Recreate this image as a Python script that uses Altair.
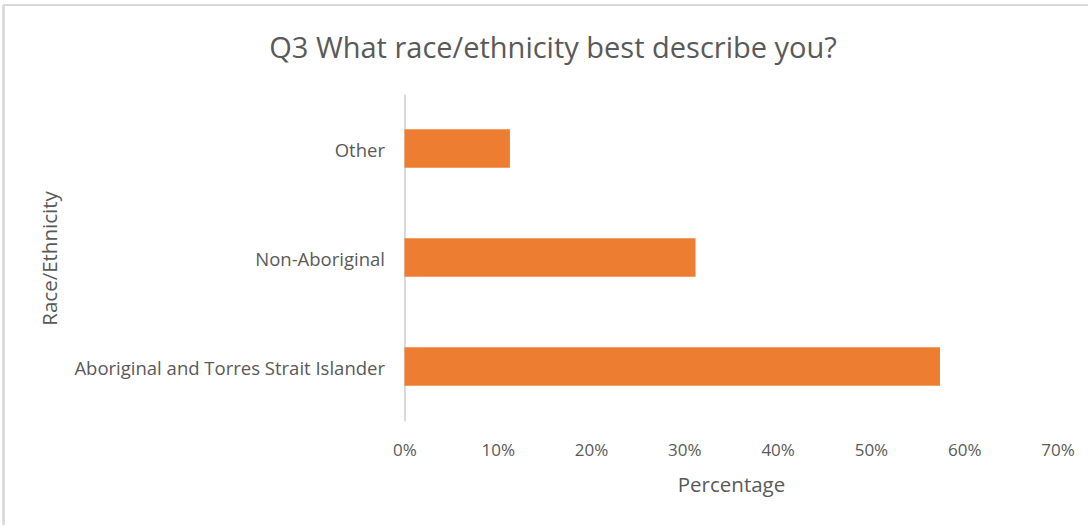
import altair as alt
import pandas as pd

categories = ["Other", "Non-Aboriginal", "Aboriginal and Torres Strait Islander"]
values = [11.3, 31.2, 57.4]
x_ticks = [0, 10, 20, 30, 40, 50, 60, 70]
title_text = ["Q3 What race/ethnicity best describe you?"]

df = pd.DataFrame({"cat": categories, "val": values})
tdf = pd.DataFrame({"t": title_text})

FONT = "Open Sans"
TXT = "#595959"

bars = alt.Chart(df).mark_bar(color="#ED7D31").encode(
    x=alt.X(
        "val:Q",
        scale=alt.Scale(domain=[0, 70], nice=False),
        axis=alt.Axis(
            values=x_ticks,
            labelExpr="datum.value + '%'",
            labelFlush=False,
            title="Percentage",
            grid=False,
            domain=False,
            ticks=False,
            labelPadding=21,
            titlePadding=17,
            labelFontSize=17,
            titleFontSize=20.5,
            labelColor=TXT,
            titleColor=TXT,
            labelFont=FONT,
            titleFont=FONT,
            titleFontWeight="normal",
        ),
    ),
    y=alt.Y(
        "cat:N",
        sort=categories,
        scale=alt.Scale(paddingInner=0.645, paddingOuter=0.3225),
        axis=alt.Axis(
            title="Race/Ethnicity",
            domainColor="#d9d9d9",
            domainWidth=2,
            ticks=False,
            labelPadding=20,
            labelOffset=2,
            labelFontSize=18.5,
            titleFontSize=20.5,
            labelColor=TXT,
            titleColor=TXT,
            labelFont=FONT,
            titleFont=FONT,
            titleFontWeight="normal",
            titleX=-354,
            titleY=164,
            titleAngle=-90,
            titleBaseline="middle",
            titleAlign="center",
            labelLimit=400,
        ),
    ),
)

title = alt.Chart(tdf).mark_text(
    font=FONT, fontSize=29, color=TXT, align="center", baseline="middle"
).encode(text="t:N", x=alt.value(148.5), y=alt.value(-45))

top_border = alt.Chart(df).mark_rule(color="#d9d9d9", strokeWidth=2).encode(
    x=alt.value(-401), x2=alt.value(683), y=alt.value(-89)
)
left_border = alt.Chart(df).mark_rule(color="#d9d9d9", strokeWidth=2).encode(
    x=alt.value(-401), y=alt.value(-89), y2=alt.value(431)
)

chart = (
    alt.layer(bars, title, top_border, left_border)
    .properties(
        width=653,
        height=327,
        autosize=alt.AutoSizeParams(type="none"),
        padding={"left": 404.5, "top": 94, "right": 33.5, "bottom": 105},
        background="white",
    )
    .configure_view(stroke="transparent", strokeWidth=0)
)

chart.save("out.html", embed_options={"renderer": "svg", "actions": False})
